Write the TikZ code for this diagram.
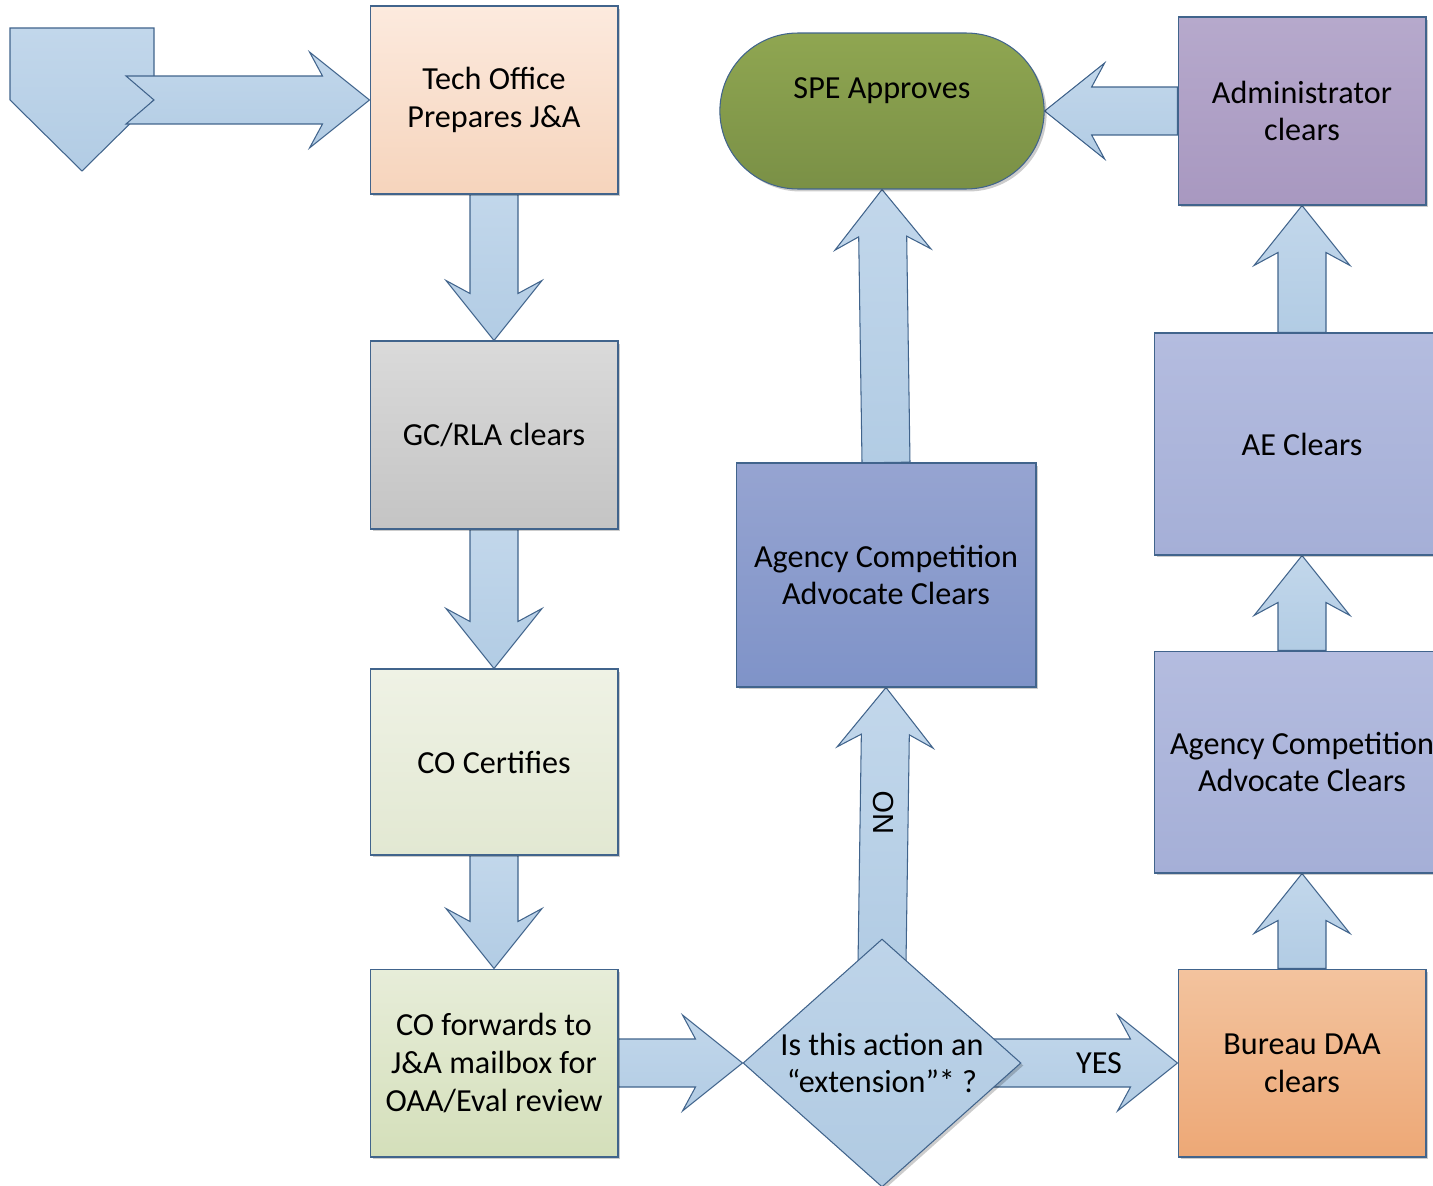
\documentclass[tikz,border=0pt]{standalone}
\usepackage{fontspec}
\setmainfont{Carlito}
\newfontfamily\arialfont{Liberation Sans}
\usetikzlibrary{calc,shapes.geometric,shapes.misc,shadows}
\pgfdeclarelayer{background}
\pgfsetlayers{background,main}

\definecolor{edge}{RGB}{65,100,140}
\definecolor{arrowtop}{RGB}{194,215,235}
\definecolor{arrowbot}{RGB}{178,204,228}
\definecolor{techtop}{RGB}{252,234,222}
\definecolor{techbot}{RGB}{246,212,188}
\definecolor{gctop}{RGB}{218,218,218}
\definecolor{gcbot}{RGB}{196,196,196}
\definecolor{certtop}{RGB}{239,242,229}
\definecolor{certbot}{RGB}{226,232,210}
\definecolor{fwdtop}{RGB}{231,237,217}
\definecolor{fwdbot}{RGB}{212,223,186}
\definecolor{diatop}{RGB}{190,212,233}
\definecolor{diabot}{RGB}{176,202,226}
\definecolor{acatop}{RGB}{150,164,209}
\definecolor{acabot}{RGB}{127,147,200}
\definecolor{spetop}{RGB}{143,166,81}
\definecolor{spebot}{RGB}{122,144,70}
\definecolor{admtop}{RGB}{182,169,204}
\definecolor{admbot}{RGB}{168,152,192}
\definecolor{aetop}{RGB}{180,188,223}
\definecolor{aebot}{RGB}{165,175,215}
\definecolor{burtop}{RGB}{243,195,158}
\definecolor{burbot}{RGB}{237,168,118}

% block arrow: [notch]{from}{tip}
\newcommand{\fatarrow}[3][0cm]{%
\coordinate (fa-j) at ($(#3)!0.94cm!(#2)$);
\coordinate (fa-b) at ($(#3)!1.2cm!(#2)$);
\draw[fat] ($(#2)!0.48cm!90:(#3)$) -- ($(fa-j)!0.48cm!90:(#3)$) -- ($(fa-b)!0.96cm!90:(#3)$) -- (#3)
  -- ($(fa-b)!0.96cm!-90:(#3)$) -- ($(fa-j)!0.48cm!-90:(#3)$) -- ($(#2)!0.48cm!-90:(#3)$) -- ($(#2)!#1!(#3)$) -- cycle;}

\begin{document}
\begin{tikzpicture}[x=0.02cm, y=-0.02cm, font=\fontsize{18.3pt}{21.5pt}\selectfont, line join=miter,
  shade/.style={drop shadow={shadow xshift=0.05cm, shadow yshift=-0.05cm, fill=black, opacity=0.2}},
  box/.style={draw=edge, line width=0.6pt, align=center, minimum width=4.96cm, minimum height=3.76cm, shade},
  bigbox/.style={box, minimum width=5.92cm, minimum height=4.44cm, top color=aetop, bottom color=aebot},
  decision/.style={diamond, draw=edge, line width=0.6pt, inner sep=0pt, minimum width=5.56cm, minimum height=4.96cm, shade},
  fat/.style={draw=edge, line width=0.6pt, top color=arrowtop, bottom color=arrowbot}]
\useasboundingbox (0,0) rectangle (1433,1186);
\clip (0,0) rectangle (1433,1186);

% left column
\node[box, top color=techtop, bottom color=techbot] (tech) at (494,100) {Tech Office\\Prepares J\&A};
\node[box, top color=gctop, bottom color=gcbot] (gcrla) at (494,435) {GC/RLA clears};
\node[box, minimum height=3.72cm, top color=certtop, bottom color=certbot] (cocert) at (494,762) {CO Certifies};
\node[box, top color=fwdtop, bottom color=fwdbot] (cofwd) at (494,1063) {CO forwards to\\J\&A mailbox for\\OAA/Eval review};

% middle column
\node[decision, top color=diatop, bottom color=diabot] (extension) at (882,1063) {};
\node[align=center] (extension-text) at (extension) {Is this action an\\“extension”* ?};
\node[box, minimum width=6cm, minimum height=4.48cm, top color=acatop, bottom color=acabot] (acamid) at (886,575) {Agency Competition\\Advocate Clears};
\node[rounded rectangle, draw=edge, line width=0.6pt, minimum width=6.72cm, minimum height=3.12cm, top color=spetop, bottom color=spebot, shade] (spe) at (882,111) {};
\node (spe-text) at (882,91) {SPE Approves};

% right column
\node[box, top color=admtop, bottom color=admbot] (admin) at (1302,111) {Administrator\\clears};
\node[bigbox] (ae) at (1302,444) {AE Clears};
\node[bigbox] (acaright) at (1302,762) {Agency Competition\\Advocate Clears};
\node[box, top color=burtop, bottom color=burbot] (bureau) at (1302,1063) {Bureau DAA\\clears};

\begin{pgfonlayer}{background}
\draw[fat] (10,28) -- (154,28) -- (154,100) -- (82,171) -- (10,100) -- cycle;
\coordinate (offpage) at (126,100);
\fatarrow[0.56cm]{offpage}{tech.west}
\fatarrow{tech.south}{gcrla.north}
\fatarrow{gcrla.south}{cocert.north}
\fatarrow{cocert.south}{cofwd.north}
\fatarrow{cofwd.east}{extension.west}
\coordinate (extension-top) at ($(extension.north)!0.2!(extension.center)$);
\coordinate (extension-right) at ($(extension.east)!0.2!(extension.center)$);
\fatarrow{extension-top}{acamid.south}
\fatarrow{extension-right}{bureau.west}
\fatarrow{acamid.north}{spe.south}
\fatarrow{admin.west}{spe.east}
\fatarrow{bureau.north}{acaright.south}
\fatarrow{acaright.north}{ae.south}
\fatarrow{ae.north}{admin.south}
\end{pgfonlayer}

\node[rotate=90, font=\arialfont\fontsize{16.5pt}{19pt}\selectfont] (no) at (884,813) {NO};
\node (yes) at (1099,1063) {YES};
\end{tikzpicture}
\end{document}
